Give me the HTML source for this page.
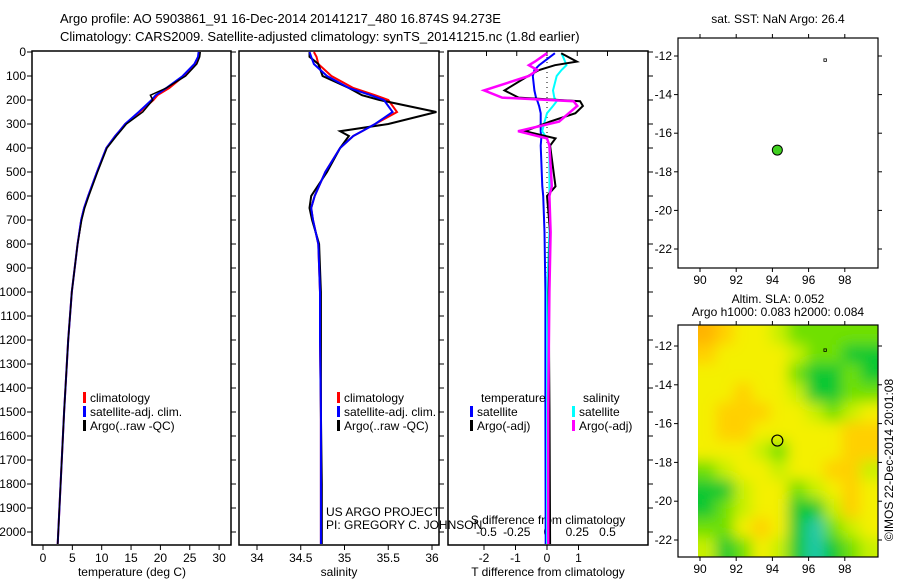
<!DOCTYPE html>
<html><head><meta charset="utf-8"><style>
body{margin:0;background:#fff;}
svg{display:block;font-family:"Liberation Sans",sans-serif;}
text{font-size:12px;fill:#000;}
</style></head><body>
<svg id="c" width="900" height="580" viewBox="0 0 900 580">
<defs>
<filter id="blr" x="-10%" y="-10%" width="120%" height="120%"><feGaussianBlur stdDeviation="7"/></filter>
<clipPath id="hclip"><rect x="698" y="325" width="180" height="232"/></clipPath>
</defs>
<text x="60" y="23" style="font-size:13px">Argo profile: AO 5903861_91 16-Dec-2014 20141217_480 16.874S 94.273E</text>
<text x="60" y="41" style="font-size:13px">Climatology: CARS2009. Satellite-adjusted climatology: synTS_20141215.nc (1.8d earlier)</text>
<g id="heat" clip-path="url(#hclip)"><g id="heatInner" filter="url(#blr)"></g></g>
</svg>
<script>
// ---------- data ----------
const depthTicks=[0,100,200,300,400,500,600,700,800,900,1000,1100,1200,1300,1400,1500,1600,1700,1800,1900,2000];
const tempTicks=[0,5,10,15,20,25,30];
const salTicks=[34,34.5,35,35.5,36];
const tdiffTicks=[-2,-1,0,1];
const sdiffTicks=[-0.5,-0.25,0,0.25,0.5];
const lonTicks=[90,92,94,96,98];
const latTicks=[-12,-14,-16,-18,-20,-22];

const profDepth=[0,20,50,100,150,180,200,250,300,330,350,400,500,600,650,700,800,1000,1200,1500,1800,2050];
const tempClim=[26.6,26.5,26.0,24.0,21.5,19.5,18.8,16.5,14.0,13.0,12.3,10.8,9.2,7.7,7.0,6.5,5.9,4.9,4.3,3.6,3.0,2.5];
const tempSat =[26.5,26.4,25.8,23.8,21.0,19.2,18.5,16.3,14.0,13.0,12.3,10.8,9.2,7.7,7.0,6.5,5.9,4.9,4.3,3.6,3.0,2.5];
const tempArgo=[26.8,26.7,26.2,24.3,21.0,18.3,18.7,17.0,14.2,13.2,12.5,10.9,9.3,7.8,7.1,6.6,5.9,4.9,4.3,3.6,3.0,2.5];
const salClim=[34.65,34.68,34.7,34.85,35.1,35.35,35.5,35.6,35.35,35.2,35.1,34.95,34.78,34.66,34.62,34.64,34.7,34.72,34.72,34.73,34.73,34.73];
const salSat =[34.6,34.62,34.65,34.8,35.05,35.3,35.45,35.55,35.35,35.2,35.1,34.95,34.78,34.66,34.62,34.64,34.7,34.72,34.72,34.73,34.73,34.73];
const salArgo=[34.6,34.6,34.7,34.75,35.05,35.2,35.4,36.05,35.5,34.95,35.05,34.95,34.8,34.62,34.6,34.63,34.71,34.73,34.73,34.73,34.74,34.74];

const diffDepth=[5,40,55,75,100,160,190,205,225,255,290,330,360,390,560,600,750,1000,1500,2050];
const tdArgo=[0.45,0.95,0.25,-0.25,-0.6,-1.35,-0.9,1.05,1.14,0.9,0.1,-0.7,0.27,0.1,0.27,0.0,0.1,0.05,0.08,0.1];
const tdSat =[0.25,-0.1,-0.25,-0.4,-0.45,-0.4,-0.35,-0.3,-0.25,-0.2,-0.2,-0.2,-0.18,-0.2,-0.15,-0.12,-0.08,-0.05,-0.05,-0.04];
const sdArgo=[0,-0.1,-0.15,-0.08,-0.15,-0.52,-0.37,0.22,0.25,0.18,0.1,-0.24,0.0,0.02,0.04,0.02,0.03,0.02,0.01,0.01];
const sdSat =[0.12,0.15,0.16,0.12,0.08,0.05,0.06,0.08,0.05,0.0,-0.02,-0.04,0.0,0.02,0.02,0.02,0.02,0.0,0.0,0.0];

// SLA grid (12 rows lat -11..-23, 10 cols lon 89.9..99.6), level 0..6
const slaGrid=[
[6,5,4,4,3,2,2,2,2,2],
[5,4,4,4,4,3,2,2,1,1],
[4,4,4,4,4,2,1,1,2,1],
[4,4,5,4,4,3,1,1,2,2],
[4,5,5,5,4,4,3,2,3,4],
[4,5,5,4,4,4,4,4,5,5],
[4,4,4,3,2,4,4,4,5,5],
[2,3,4,4,3,4,4,5,5,3],
[1,1,3,4,4,2,3,4,5,4],
[1,2,3,4,4,1,1,3,5,4],
[2,2,4,5,4,1,0,2,3,4],
[3,1,2,4,3,1,0,1,2,3]];
const slaColors=["#20c8a8","#10c830","#70e000","#c8f000","#f4f000","#ffd000","#ffb400"];

// ---------- helpers ----------
const NS="http://www.w3.org/2000/svg";
const svg=document.getElementById('c');
function el(t,a,txt,parent){const e=document.createElementNS(NS,t);for(const k in a)e.setAttribute(k,a[k]);if(txt!==undefined&&txt!==null)e.textContent=txt;(parent||svg).appendChild(e);return e;}
const Y0=52,PY=0.24;
const yD=d=>Y0+d*PY;
const P1={x0:32,x1:231},P2={x0:239,x1:439},P3={x0:448,x1:648};
const xT=v=>43+v*5.87;
const xS=v=>257+(v-34)*87.5;
const xTD=v=>547+v*31.5;
const xSD=v=>547+v*121;

function frame(p,name){
  const r=el('rect',{x:p.x0,y:Y0-1,width:p.x1-p.x0,height:545-Y0+1,fill:'none',stroke:'#000','stroke-width':1.5});
  
  
}
function line(xs,ds,fx,color,name,w){
  const pts=ds.map((d,i)=>fx(xs[i]).toFixed(1)+','+yD(d).toFixed(1)).join(' ');
  const e=el('polyline',{points:pts,fill:'none',stroke:color,'stroke-width':w||2});
  
  
}
function txt(x,y,s,anchor,name,extra){
  const e=el('text',Object.assign({x:x,y:y,'text-anchor':anchor||'start'},extra||{}),s);
  
  
  return e;
}

// panels
frame(P1,'temperature-panel');frame(P2,'salinity-panel');frame(P3,'difference-panel');
depthTicks.forEach(d=>{
  const t=el('line',{x1:27,x2:32,y1:yD(d),y2:yD(d),stroke:'#000'});
  
  
  txt(26,yD(d)+4,String(d),'end','depth-tick-label');
  [P1,P2,P3].forEach(p=>{const a=el('line',{x1:p.x1,x2:p.x1+5,y1:yD(d),y2:yD(d),stroke:'#000'});});
});
tempTicks.forEach(v=>{const t=el('line',{x1:xT(v),x2:xT(v),y1:545,y2:550,stroke:'#000'});txt(xT(v),562,String(v),'middle','temp-tick-label');});
salTicks.forEach(v=>{const t=el('line',{x1:xS(v),x2:xS(v),y1:545,y2:550,stroke:'#000'});txt(xS(v),562,String(v),'middle','sal-tick-label');});
tdiffTicks.forEach(v=>{const t=el('line',{x1:xTD(v),x2:xTD(v),y1:545,y2:550,stroke:'#000'});txt(xTD(v),562,String(v),'middle','tdiff-tick-label');});
sdiffTicks.forEach(v=>{const t=el('line',{x1:xSD(v),x2:xSD(v),y1:51,y2:56,stroke:'#000'});txt(xSD(v),536,String(v),'middle','sdiff-tick-label');});
txt(132,576,'temperature (deg C)','middle','temperature-axis-title');
txt(339,576,'salinity','middle','salinity-axis-title');
txt(548,576,'T difference from climatology','middle','tdiff-axis-title');
txt(548,524,'S difference from climatology','middle','sdiff-axis-title');

// zero dotted line
const z=el('line',{x1:xTD(0),x2:xTD(0),y1:Y0,y2:545,stroke:'#000','stroke-dasharray':'1,4'});


line(tempClim,profDepth,xT,'#f00','temp-climatology');
line(tempSat,profDepth,xT,'#00f','temp-satellite');
line(tempArgo,profDepth,xT,'#000','temp-argo',1.5);
line(salClim,profDepth,xS,'#f00','sal-climatology');
line(salArgo,profDepth,xS,'#000','sal-argo',2);
line(salSat,profDepth,xS,'#00f','sal-satellite');
line(tdSat,diffDepth,xTD,'#00f','tdiff-satellite');
line(sdSat,diffDepth,xSD,'#0ff','sdiff-satellite');
line(tdArgo,diffDepth,xTD,'#000','tdiff-argo',2);
line(sdArgo,diffDepth,xSD,'#f0f','sdiff-argo',2.5);

// legends
function legItem(x,y,color,label){
  const r=el('rect',{x:x,y:y-10,width:3,height:11,fill:color});
  
  txt(x+7,y,label,'start','legend-entry');
}
[[P1,83],[P2,337]].forEach(([p,x])=>{legItem(x,402,'#f00','climatology');legItem(x,416,'#00f','satellite-adj. clim.');legItem(x,430,'#000','Argo(..raw -QC)');});
txt(481,402,'temperature','start','legend-title-temperature');
txt(583,402,'salinity','start','legend-title-salinity');
legItem(470,416,'#00f','satellite');legItem(470,430,'#000','Argo(-adj)');
legItem(572,416,'#0ff','satellite');legItem(572,430,'#f0f','Argo(-adj)');
txt(326,516,'US ARGO PROJECT','start','project-label');
txt(326,529,'PI: GREGORY C. JOHNSON','start','pi-label');

// maps
const M1={x0:678,x1:878,y0:38,y1:268}, M2={x0:678,x1:878,y0:325,y1:557};
const lonX=v=>700+(v-90)*18.1;
const latY1=v=>56+(-12-v)*19.3;
const latY2=v=>346+(-12-v)*19.4;
// heatmap (smoothed via blur, edges padded by clamping)
const cols=slaGrid[0].length,rows=slaGrid.length;
const hx0=698,hx1=878,hy0=325,hy1=557;
const cw=(hx1-hx0)/cols,ch=(hy1-hy0)/rows;
const heatInner=document.getElementById('heatInner');
for(let i=-2;i<rows+2;i++)for(let j=-2;j<cols+2;j++){
  const v=slaGrid[Math.min(rows-1,Math.max(0,i))][Math.min(cols-1,Math.max(0,j))];
  const r=el('rect',{x:hx0+j*cw,y:hy0+i*ch,width:cw+0.5,height:ch+0.5,fill:slaColors[v]},null,heatInner);
  
  
}
[[M1,latY1,'sst-map'],[M2,latY2,'sla-map']].forEach(([m,fy,name])=>{
  const r=el('rect',{x:m.x0,y:m.y0,width:m.x1-m.x0,height:m.y1-m.y0,fill:'none',stroke:'#000','stroke-width':1.2});
  
  lonTicks.forEach(v=>{const t=el('line',{x1:lonX(v),x2:lonX(v),y1:m.y1,y2:m.y1+4,stroke:'#000'});
    const t2=el('line',{x1:lonX(v),x2:lonX(v),y1:m.y0-4,y2:m.y0,stroke:'#000'});
    txt(lonX(v),m.y1+16,String(v),'middle','lon-tick-label');});
  latTicks.forEach(v=>{const t=el('line',{x1:m.x0-4,x2:m.x0,y1:fy(v),y2:fy(v),stroke:'#000'});
    const t2=el('line',{x1:m.x1,x2:m.x1+4,y1:fy(v),y2:fy(v),stroke:'#000'});
    txt(m.x0-6,fy(v)+4,String(v),'end','lat-tick-label');});
});
const fl=el('circle',{cx:lonX(94.273),cy:latY1(-16.874),r:5,fill:'#40d020',stroke:'#000'});

const f2=el('circle',{cx:lonX(94.273),cy:latY2(-16.874),r:5.5,fill:'none',stroke:'#000','stroke-width':1.2});

[[latY1],[latY2]].forEach(([fy])=>{const d=el('rect',{x:lonX(96.9)-1,y:fy(-12.2)-1,width:2.5,height:2.5,fill:'none',stroke:'#000','stroke-width':0.8});});
txt(778,23,'sat. SST: NaN Argo: 26.4','middle','sst-map-title');
txt(778,303,'Altim. SLA: 0.052','middle','sla-map-title');
txt(778,316,'Argo h1000: 0.083 h2000: 0.084','middle','sla-map-subtitle');
txt(0,0,'©IMOS 22-Dec-2014 20:01:08','middle','copyright-label',{transform:'translate(893,460) rotate(-90)'});
</script>
</body></html>
